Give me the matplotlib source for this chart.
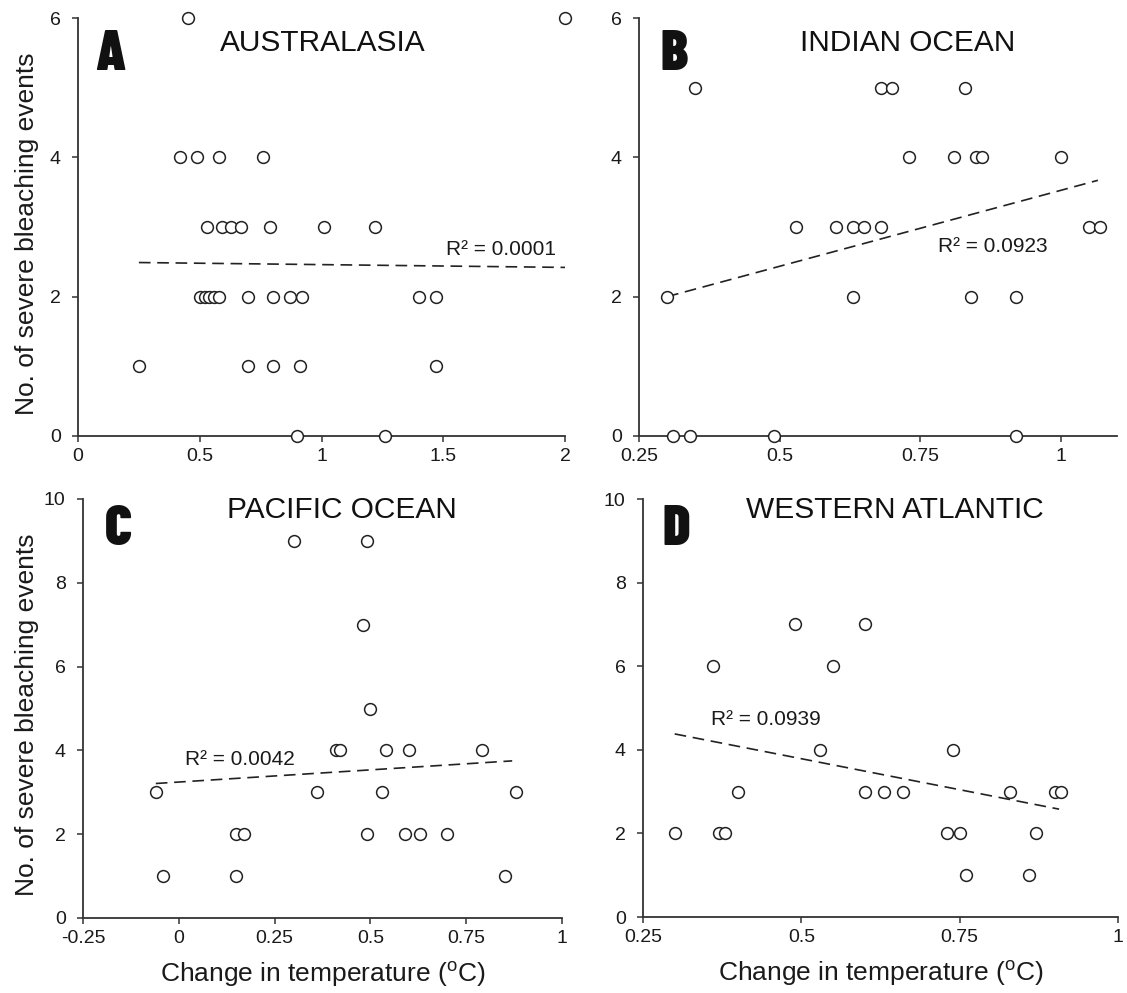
import numpy as np
import matplotlib
matplotlib.use("Agg")
import matplotlib.pyplot as plt

plt.rcParams['font.family'] = ['Liberation Sans', 'DejaVu Sans']

# panel A - Australasia
a_x = [0.45, 2.00,
       0.42, 0.49, 0.58, 0.76,
       0.53, 0.59, 0.63, 0.67, 0.79, 1.01, 1.22,
       0.50, 0.52, 0.54, 0.56, 0.58, 0.70, 0.80, 0.87, 0.92, 1.40, 1.47,
       0.25, 0.70, 0.80, 0.91, 1.47,
       0.90, 1.26]
a_y = [6, 6,
       4, 4, 4, 4,
       3, 3, 3, 3, 3, 3, 3,
       2, 2, 2, 2, 2, 2, 2, 2, 2, 2, 2,
       1, 1, 1, 1, 1,
       0, 0]
a_trend = ([0.25, 2.0], [2.49, 2.42])

# panel B - Indian Ocean
b_x = [0.35, 0.68, 0.70, 0.83,
       0.73, 0.81, 0.85, 0.86, 1.00,
       0.53, 0.60, 0.63, 0.65, 0.68, 1.05, 1.07,
       0.30, 0.63, 0.84, 0.92,
       0.31, 0.34, 0.49, 0.92]
b_y = [5, 5, 5, 5,
       4, 4, 4, 4, 4,
       3, 3, 3, 3, 3, 3, 3,
       2, 2, 2, 2,
       0, 0, 0, 0]
b_trend = ([0.30, 1.066], [2.0, 3.67])

# panel C - Pacific Ocean
c_x = [0.30, 0.49,
       0.48,
       0.50,
       0.41, 0.42, 0.54, 0.60, 0.79,
       -0.06, 0.36, 0.53, 0.88,
       0.15, 0.17, 0.49, 0.59, 0.63, 0.70,
       -0.04, 0.15, 0.85]
c_y = [9, 9,
       7,
       5,
       4, 4, 4, 4, 4,
       3, 3, 3, 3,
       2, 2, 2, 2, 2, 2,
       1, 1, 1]
c_trend = ([-0.06, 0.87], [3.21, 3.75])

# panel D - Western Atlantic
d_x = [0.49, 0.60,
       0.36, 0.55,
       0.53, 0.74,
       0.40, 0.60, 0.63, 0.66, 0.83, 0.90, 0.91,
       0.30, 0.37, 0.38, 0.73, 0.75, 0.87,
       0.76, 0.86]
d_y = [7, 7,
       6, 6,
       4, 4,
       3, 3, 3, 3, 3, 3, 3,
       2, 2, 2, 2, 2, 2,
       1, 1]
d_trend = ([0.30, 0.907], [4.38, 2.58])

W, H = 1127, 993
fig = plt.figure(figsize=(W / 100, H / 100), dpi=100)

def box(l, r, t, b):
    return [l / W, 1 - b / H, (r - l) / W, (b - t) / H]

panels = [
    # rect, x, y, trend, xlim, xticks, xticklabels, ymax, yticks, letter, title, title pos, r2, r2 pos, letter pos
    (box(78, 565, 18, 436), a_x, a_y, a_trend, (0, 2), [0, 0.5, 1, 1.5, 2],
     ['0', '0.5', '1', '1.5', '2'], 6, [0, 2, 4, 6], 'A', 'AUSTRALASIA',
     (0.503, 0.922), 'R² = 0.0001', (1.51, 2.60), (0.035, 0.876)),
    (box(639, 1117, 18, 436), b_x, b_y, b_trend, (0.25, 1.1), [0.25, 0.5, 0.75, 1],
     ['0.25', '0.5', '0.75', '1'], 6, [0, 2, 4, 6], 'B', 'INDIAN OCEAN',
     (0.563, 0.922), 'R² = 0.0923', (0.782, 2.64), (0.044, 0.876)),
    (box(83, 562, 499, 918), c_x, c_y, c_trend, (-0.25, 1), [-0.25, 0, 0.25, 0.5, 0.75, 1],
     ['-0.25', '0', '0.25', '0.5', '0.75', '1'], 10, [0, 2, 4, 6, 8, 10], 'C', 'PACIFIC OCEAN',
     (0.54, 0.955), 'R² = 0.0042', (0.016, 3.65), (0.046, 0.89)),
    (box(643, 1118, 499, 917), d_x, d_y, d_trend, (0.25, 1), [0.25, 0.5, 0.75, 1],
     ['0.25', '0.5', '0.75', '1'], 10, [0, 2, 4, 6, 8, 10], 'D', 'WESTERN ATLANTIC',
     (0.53, 0.955), 'R² = 0.0939', (0.357, 4.59), (0.042, 0.89)),
]

for i, (rect, xs, ys, trend, xlim, xt, xtl, ymax, yt, letter, title, tpos, r2, r2pos, lpos) in enumerate(panels):
    ax = fig.add_axes(rect)
    ax.plot(trend[0], trend[1], color='#222222', lw=1.2, ls=(0, (7, 4)), zorder=2)
    ax.scatter(xs, ys, s=72, facecolors='white', edgecolors='#222222', linewidths=1.1,
               zorder=5, clip_on=False)
    ax.set_xlim(*xlim)
    ax.set_ylim(0, ymax)
    ax.set_xticks(xt)
    ax.set_xticklabels(xtl)
    ax.set_yticks(yt)
    for s in ['top', 'right']:
        ax.spines[s].set_visible(False)
    for s in ['left', 'bottom']:
        ax.spines[s].set_linewidth(1.3)
        ax.spines[s].set_color('#333333')
    ax.tick_params(axis='both', length=4.5, width=1.1, color='#333333',
                   labelsize=14, labelcolor='#1a1a1a')
    ax.tick_params(axis='y', pad=8)
    ax.tick_params(axis='x', pad=4)

    ax.text(tpos[0], tpos[1], title, transform=ax.transAxes, ha='center', va='baseline',
            fontsize=21.5, color='#111111')
    ax.text(lpos[0], lpos[1], letter, transform=ax.transAxes, ha='left', va='baseline',
            fontsize=41, fontweight=900, color='#111111',
            family=['Barlow Condensed', 'Liberation Sans Narrow', 'DejaVu Sans'])
    ax.text(r2pos[0], r2pos[1], r2, ha='left', va='baseline', fontsize=15,
            color='#1a1a1a')

    if i % 2 == 0:
        ax.set_ylabel('No. of severe bleaching events', fontsize=19, color='#1a1a1a')
        ax.yaxis.set_label_coords(-0.08 if i == 0 else -0.092, 0.485)
    if i >= 2:
        ax.set_xlabel('Change in temperature ($\\mathregular{^o}$C)', fontsize=19, color='#1a1a1a')
        ax.xaxis.set_label_coords(0.5, -0.10)

fig.savefig('out.png', dpi=100)
